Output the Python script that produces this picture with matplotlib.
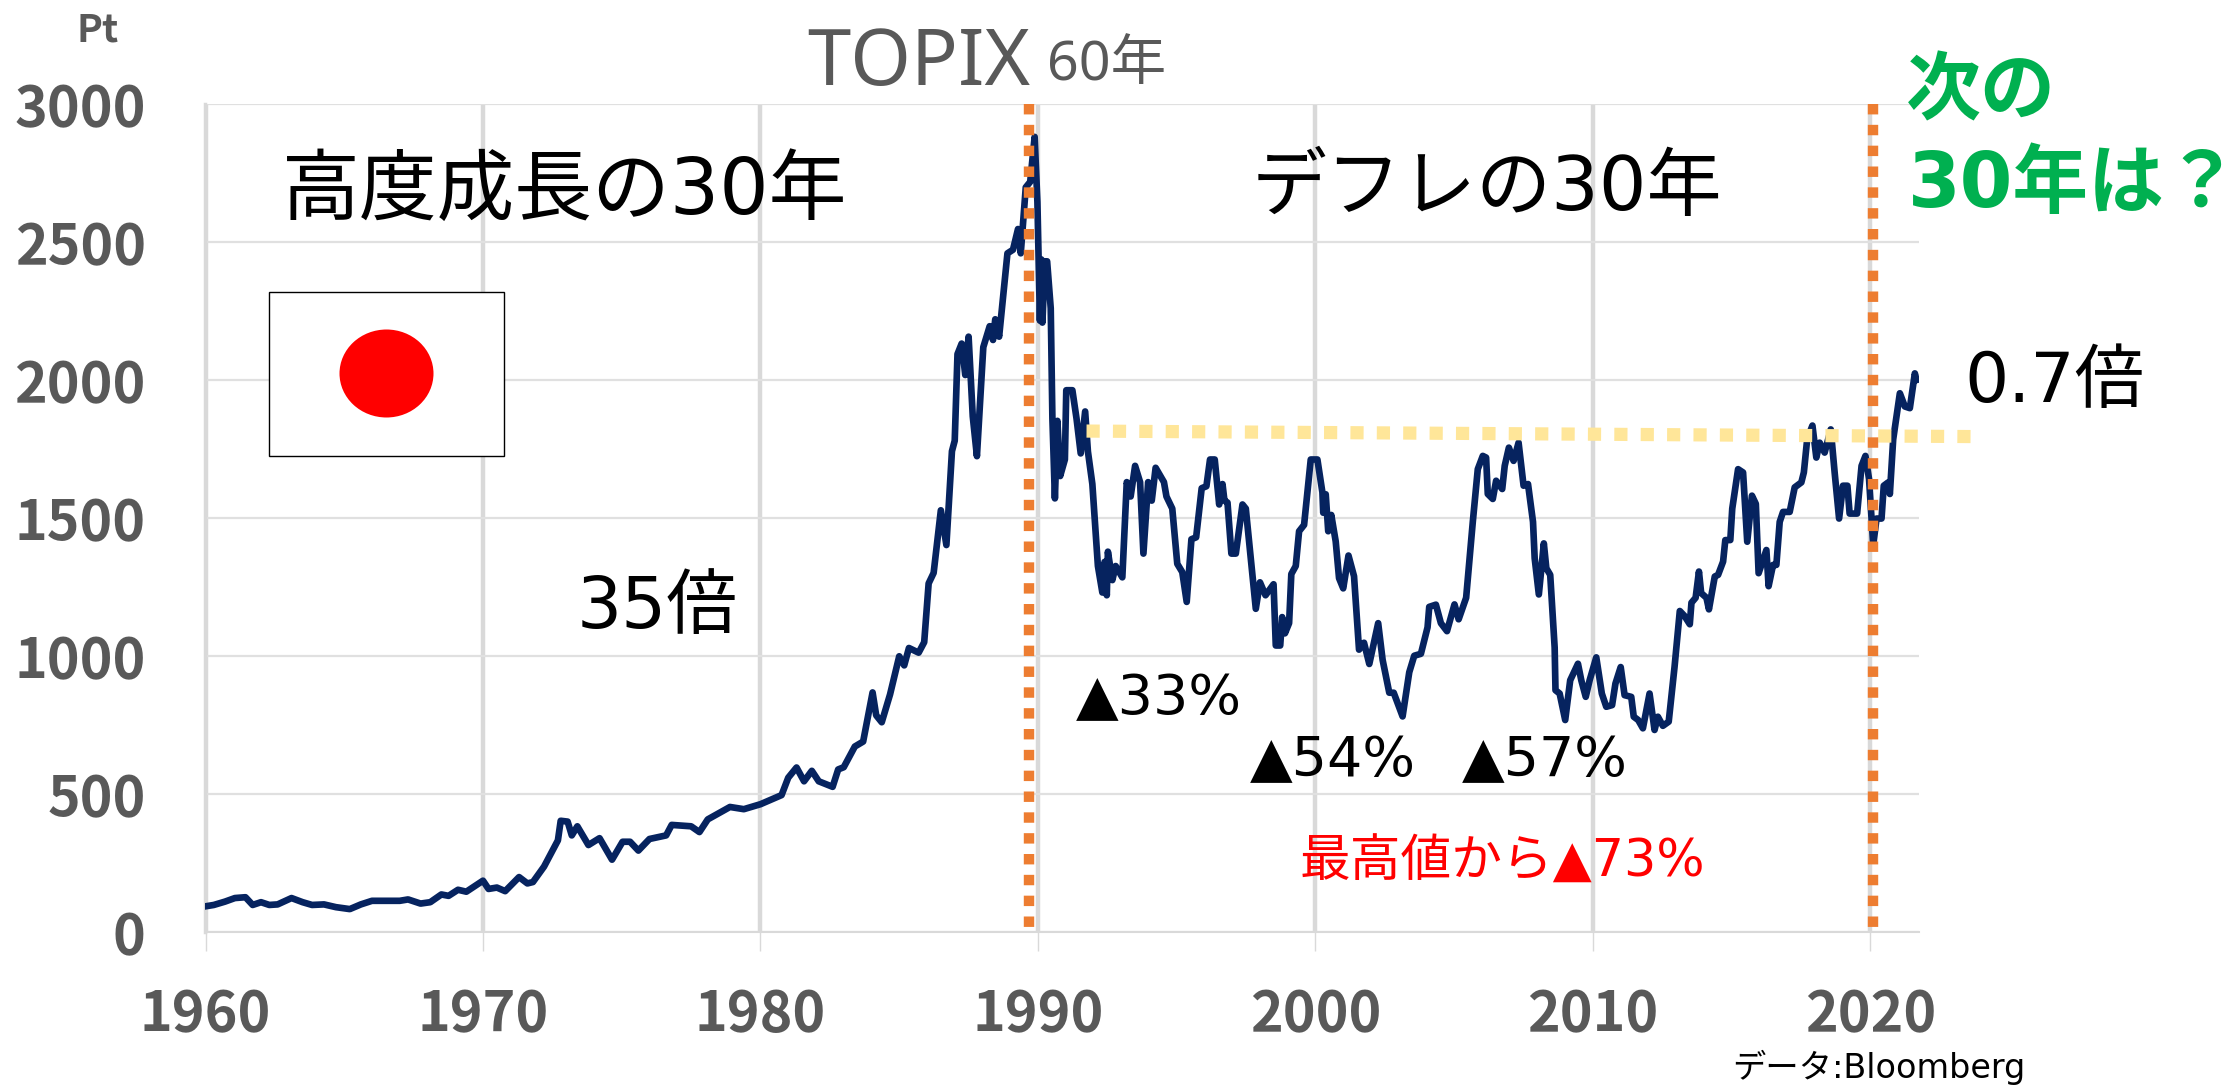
import matplotlib.pyplot as plt
from matplotlib.patches import Ellipse, Rectangle

# -------------------------------------------------
# Data
# -------------------------------------------------

years = [
    1960.0, 1960.3, 1960.7, 1961.06, 1961.44, 1961.7, 1962.0, 1962.3, 1962.6, 1963.1,
    1963.5, 1963.84, 1964.27, 1964.7, 1965.2, 1965.6, 1966.0, 1966.6, 1967.0, 1967.3,
    1967.75, 1968.1, 1968.5, 1968.76, 1969.1, 1969.4, 1970.0, 1970.2, 1970.5, 1970.8,
    1971.3, 1971.6, 1971.8, 1972.2, 1972.7, 1972.8, 1973.05, 1973.2, 1973.4, 1973.8,
    1974.2, 1974.65, 1975.03, 1975.3, 1975.6, 1976.0, 1976.6, 1976.8, 1977.5, 1977.8,
    1978.1, 1978.9, 1979.4, 1980.0, 1980.76, 1981.0, 1981.3, 1981.57, 1981.85, 1982.1,
    1982.6, 1982.8, 1983.0, 1983.4, 1983.7, 1983.86, 1984.04, 1984.17, 1984.37, 1984.67,
    1985.0, 1985.18, 1985.35, 1985.7, 1985.9, 1986.06, 1986.24, 1986.5, 1986.7, 1986.9,
    1987.0, 1987.1, 1987.25, 1987.38, 1987.5, 1987.65, 1987.8, 1988.03, 1988.26, 1988.38,
    1988.46, 1988.6, 1988.76, 1988.9, 1989.1, 1989.28, 1989.38, 1989.56, 1989.72, 1989.88,
    1989.98, 1990.07, 1990.12, 1990.16, 1990.25, 1990.33, 1990.46, 1990.52, 1990.61, 1990.7,
    1990.8, 1990.97, 1991.02, 1991.24, 1991.39, 1991.54, 1991.7, 1991.8, 1991.96, 1992.16,
    1992.32, 1992.4, 1992.48, 1992.52, 1992.68, 1992.8, 1993.04, 1993.2, 1993.34, 1993.5,
    1993.68, 1993.8, 1993.97, 1994.1, 1994.24, 1994.54, 1994.63, 1994.84, 1995.02, 1995.2,
    1995.36, 1995.53, 1995.7, 1995.9, 1996.07, 1996.2, 1996.37, 1996.53, 1996.65, 1996.72,
    1996.83, 1996.97, 1997.13, 1997.37, 1997.49, 1997.85, 1998.0, 1998.2, 1998.49, 1998.57,
    1998.73, 1998.8, 1998.9, 1999.05, 1999.13, 1999.29, 1999.41, 1999.59, 1999.83, 2000.07,
    2000.25, 2000.28, 2000.37, 2000.46, 2000.57, 2000.73, 2000.85, 2001.0, 2001.19, 2001.39,
    2001.57, 2001.75, 2001.94, 2002.26, 2002.42, 2002.66, 2002.82, 2003.14, 2003.38, 2003.56,
    2003.8, 2004.04, 2004.1, 2004.34, 2004.52, 2004.74, 2005.01, 2005.16, 2005.43, 2005.67,
    2005.85, 2006.03, 2006.15, 2006.21, 2006.39, 2006.51, 2006.73, 2006.82, 2006.97, 2007.14,
    2007.32, 2007.5, 2007.66, 2007.84, 2007.9, 2008.05, 2008.23, 2008.32, 2008.46, 2008.62,
    2008.65, 2008.8, 2009.0, 2009.18, 2009.46, 2009.58, 2009.74, 2009.88, 2010.12, 2010.32,
    2010.48, 2010.69, 2010.81, 2011.0, 2011.14, 2011.38, 2011.47, 2011.63, 2011.8, 2012.04,
    2012.22, 2012.34, 2012.52, 2012.73, 2012.94, 2013.13, 2013.3, 2013.49, 2013.55, 2013.7,
    2013.82, 2013.9, 2014.09, 2014.18, 2014.39, 2014.51, 2014.69, 2014.77, 2014.95, 2015.02,
    2015.23, 2015.41, 2015.56, 2015.73, 2015.87, 2015.97, 2016.25, 2016.33, 2016.49, 2016.61,
    2016.73, 2016.85, 2017.09, 2017.27, 2017.51, 2017.6, 2017.72, 2017.91, 2018.05, 2018.17,
    2018.35, 2018.57, 2018.71, 2018.87, 2019.01, 2019.17, 2019.25, 2019.52, 2019.68, 2019.82,
    2019.95, 2020.1, 2020.22, 2020.4, 2020.48, 2020.64, 2020.7, 2020.82, 2021.06, 2021.24,
    2021.42, 2021.6, 2021.66,
]

topix = [
    93, 98, 110, 123, 126, 98, 108, 98, 100, 123,
    108, 98, 100, 90, 83, 100, 113, 113, 113, 118,
    103, 108, 136, 131, 153, 146, 186, 156, 161, 148,
    199, 176, 181, 237, 332, 403, 400, 350, 383, 315,
    340, 262, 327, 327, 295, 337, 350, 388, 383, 362,
    408, 453, 445, 463, 496, 559, 596, 546, 584, 546,
    526, 589, 597, 672, 690, 773, 868, 785, 760, 861,
    999, 966, 1029, 1012, 1050, 1263, 1301, 1528, 1402, 1742,
    1780, 2094, 2132, 2018, 2157, 1868, 1724, 2119, 2195, 2145,
    2220, 2157, 2320, 2459, 2472, 2547, 2459, 2698, 2718, 2881,
    2645, 2215, 2437, 2208, 2430, 2430, 2260, 1860, 1571, 1852,
    1652, 1712, 1963, 1963, 1860, 1734, 1886, 1741, 1623, 1326,
    1230, 1341, 1220, 1378, 1275, 1326, 1285, 1630, 1578, 1689,
    1630, 1371, 1630, 1563, 1682, 1630, 1578, 1534, 1334, 1304,
    1196, 1423, 1430, 1608, 1615, 1712, 1712, 1549, 1623, 1563,
    1556, 1371, 1371, 1549, 1534, 1171, 1267, 1220, 1260, 1038,
    1038, 1141, 1082, 1119, 1297, 1326, 1452, 1475, 1712, 1712,
    1593, 1519, 1586, 1452, 1511, 1415, 1282, 1245, 1364, 1289,
    1023, 1048, 971, 1119, 986, 867, 867, 781, 941, 1001,
    1008, 1104, 1178, 1186, 1119, 1090, 1187, 1133, 1211, 1486,
    1677, 1725, 1719, 1587, 1569, 1635, 1605, 1689, 1755, 1707,
    1773, 1617, 1623, 1486, 1354, 1223, 1408, 1318, 1294, 1031,
    876, 864, 768, 912, 972, 912, 852, 912, 995, 864,
    816, 822, 900, 960, 858, 852, 780, 768, 738, 864,
    732, 780, 747, 762, 960, 1163, 1145, 1115, 1193, 1211,
    1306, 1228, 1211, 1169, 1288, 1294, 1342, 1420, 1420, 1534,
    1677, 1665, 1414, 1581, 1551, 1300, 1384, 1253, 1330, 1330,
    1486, 1522, 1522, 1611, 1629, 1665, 1785, 1835, 1719, 1773,
    1737, 1821, 1665, 1498, 1617, 1617, 1516, 1516, 1689, 1725,
    1641, 1402, 1498, 1498, 1617, 1629, 1587, 1785, 1952, 1904,
    1898, 2024, 2000,
]

x_ticks = [1960, 1970, 1980, 1990, 2000, 2010, 2020]
y_ticks = [0, 500, 1000, 1500, 2000, 2500, 3000]

era_years = [1989.66, 2020.08]
flat_years = [1991.75, 2023.75]
flat_values = [1815, 1795]

# -------------------------------------------------
# Figure
# -------------------------------------------------

W, H = 2240, 1089
LABEL_FONT = ["DejaVu Sans", "Noto Sans CJK JP"]
BOLD_FONT = ["Noto Sans CJK JP"]
GRAY = "#595959"

plt.rcParams["font.family"] = ["Noto Sans", "Noto Sans CJK JP"]

fig = plt.figure(figsize=(W / 100, H / 100), dpi=100)
ax = fig.add_axes([205.5 / W, 1 - 932 / H, (1919 - 205.5) / W, (932 - 104) / H])

ax.set_xlim(1960, 2021.75)
ax.set_ylim(0, 3000)

for spine in ["top", "right"]:
    ax.spines[spine].set_visible(False)
ax.spines["left"].set_color("#d9d9d9")
ax.spines["left"].set_linewidth(2.5)
ax.spines["bottom"].set_color("#d9d9d9")
ax.spines["bottom"].set_linewidth(1.5)

ax.set_xticks(x_ticks)
ax.set_yticks(y_ticks)
ax.grid(True, axis="x", color="#d9d9d9", linewidth=3.2, zorder=1)
ax.grid(True, axis="y", color="#e0e0e0", linewidth=1.6, zorder=1)
ax.set_axisbelow(True)

ax.tick_params(axis="x", length=13.5, width=1, color="#d9d9d9", pad=26, labelsize=40, labelcolor=GRAY)
ax.tick_params(axis="y", length=0, pad=43, labelsize=40, labelcolor=GRAY)
for label in ax.get_xticklabels() + ax.get_yticklabels():
    label.set_fontweight("bold")
    label.set_family(BOLD_FONT)

ax.plot(years, topix, color="#06235f", linewidth=4.8, solid_joinstyle="round", zorder=3)

ax.plot(
    flat_years,
    flat_values,
    color="#ffe699",
    linewidth=9.5,
    linestyle=(0, (1, 1)),
    dash_capstyle="butt",
    clip_on=False,
    zorder=4,
)

for era in era_years:
    ax.plot(
        [era, era],
        [3000, 15],
        color="#ed7d31",
        linewidth=7.5,
        linestyle=(0, (1, 1)),
        dash_capstyle="butt",
        zorder=5,
    )


# -------------------------------------------------
# Flag and text, placed in picture pixels
# -------------------------------------------------

def put_text(px, py, text, size, color="black", ha="left", weight="normal", family=None):
    fig.text(
        px / W,
        1 - py / H,
        text,
        fontsize=size,
        color=color,
        ha=ha,
        va="center",
        fontweight=weight,
        family=family or LABEL_FONT,
        zorder=10,
    )


fig.add_artist(
    Rectangle((269 / W, 1 - 456 / H), 235 / W, 164 / H, transform=fig.transFigure,
              facecolor="white", edgecolor="black", linewidth=1, zorder=6)
)
fig.add_artist(
    Ellipse((386.5 / W, 1 - 373.5 / H), 94 / W, 88 / H, transform=fig.transFigure,
            facecolor="#ff0000", edgecolor="none", zorder=7)
)

put_text(98, 30, "Pt", 28, GRAY, ha="center", weight="bold", family=BOLD_FONT)
put_text(807, 64, "TOPIX", 56, GRAY, family=["Noto Sans"])
put_text(1047, 66, "60年", 40, GRAY, family=["Noto Sans", "Noto Sans CJK JP"])

put_text(282, 192, "高度成長の30年", 56)
put_text(1252, 189, "デフレの30年", 54)
put_text(1906, 94, "次の", 54, "#00b050", weight="bold")
put_text(1908, 186, "30年は？", 54.5, "#00b050", weight="bold")
put_text(1964, 383, "0.7倍", 50)
put_text(577, 608, "35倍", 51)

put_text(1076, 699, "▲33%", 40)
put_text(1250, 761, "▲54%", 40)
put_text(1462, 761, "▲57%", 40)
put_text(1300, 863, "最高値から▲73%", 36.5, "#ff0000")
put_text(1732, 1067, "データ:Bloomberg", 24)

plt.savefig("out.png", dpi=100)
